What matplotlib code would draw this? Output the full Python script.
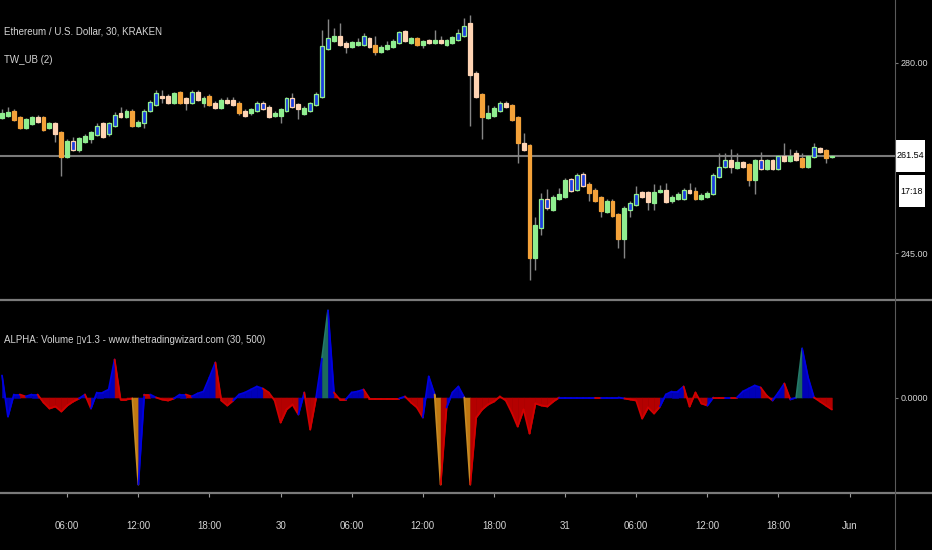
import matplotlib
matplotlib.use("Agg")
import matplotlib.pyplot as plt
from matplotlib.lines import Line2D
from matplotlib.patches import Rectangle
import numpy as np

# ---- data (ETH/USD, 30 min bars, Kraken) ----
title = "Ethereum / U.S. Dollar, 30, KRAKEN"
study_label = "TW_UB (2)"
ind_label = "ALPHA: Volume \u25afv1.3 - www.thetradingwizard.com (30, 500)"
last_price_label = "261.54"
countdown_label = "17:18"

opens = [269.8, 270.3, 271.2, 270.0, 268.0, 268.8, 270.1, 270.0, 268.0, 268.9,
         267.2, 262.7, 265.7, 264.0, 265.5, 265.95, 266.75, 268.9, 266.9, 268.4,
         270.85, 270.0, 271.2, 268.4, 268.9, 271.2, 272.3, 274.0, 273.9, 272.7,
         274.7, 273.5, 272.7, 274.7, 272.7, 273.9, 272.7, 271.8, 273.2, 273.2,
         272.7, 271.2, 270.7, 271.2, 272.7, 271.95, 270.2, 270.2, 271.2, 273.5,
         272.4, 270.6, 271.2, 272.3, 273.8, 282.6, 284.05, 284.97, 283.7, 283.0,
         283.3, 283.4, 284.55, 283.3, 282.1, 282.6, 282.9, 283.7, 285.8, 283.7,
         284.55, 283.4, 284.2, 283.7, 284.2, 283.4, 283.7, 284.2, 285.0, 287.3,
         278.2, 274.2, 269.9, 270.2, 271.2, 272.7, 272.3, 270.0, 265.2, 264.9,
         244.1, 249.6, 254.95, 252.9, 254.95, 255.3, 258.64, 256.6, 259.56, 257.7,
         256.6, 255.3, 252.6, 254.6, 252.2, 247.6, 252.9, 253.85, 256.24, 256.24,
         254.2, 256.24, 256.6, 254.6, 254.95, 254.95, 256.6, 256.43, 254.95, 255.3,
         255.87, 259.0, 260.85, 262.13, 260.66, 261.77, 261.4, 258.45, 262.13, 260.48,
         262.13, 260.48, 262.87, 261.95, 263.42, 262.5, 260.85, 262.69, 264.34, 263.98,
         262.7]
highs = [271.5, 271.9, 271.6, 270.3, 269.9, 270.3, 270.5, 270.2, 269.2, 269.1,
         267.5, 266.0, 266.3, 266.4, 266.9, 267.5, 268.9, 269.1, 269.2, 270.9,
         271.95, 271.5, 271.5, 269.5, 271.5, 273.2, 275.0, 275.0, 274.2, 274.7,
         274.9, 273.8, 275.0, 275.0, 273.9, 274.2, 273.0, 273.5, 273.8, 273.8,
         273.0, 271.5, 271.7, 273.0, 273.0, 272.2, 271.1, 271.7, 273.8, 274.5,
         272.7, 272.0, 272.9, 274.6, 286.1, 288.1, 286.4, 287.3, 284.0, 284.1,
         284.66, 285.5, 284.8, 284.97, 283.3, 284.1, 284.4, 285.9, 286.0, 284.8,
         284.8, 284.3, 284.4, 286.1, 285.0, 284.4, 284.9, 286.2, 288.3, 288.8,
         278.5, 274.5, 272.3, 272.0, 273.0, 273.0, 272.5, 270.2, 267.1, 265.1,
         251.6, 256.1, 256.8, 255.6, 257.0, 258.8, 258.9, 259.7, 259.9, 258.0,
         256.9, 255.5, 254.9, 254.9, 252.4, 253.6, 254.5, 257.35, 256.5, 256.5,
         257.7, 257.5, 257.9, 255.6, 256.2, 256.9, 257.9, 257.1, 256.0, 256.4,
         259.7, 263.4, 263.4, 264.2, 263.4, 262.0, 261.6, 262.4, 263.6, 262.4,
         262.4, 263.1, 265.3, 264.2, 264.0, 263.4, 263.1, 265.27, 264.6, 264.2,
         263.0]
lows = [269.6, 270.1, 269.3, 267.8, 267.8, 268.6, 269.0, 267.5, 267.8, 265.5,
        259.1, 262.5, 263.8, 263.6, 265.3, 265.3, 266.5, 266.2, 266.6, 268.2,
        269.8, 269.8, 268.2, 268.2, 268.0, 270.9, 272.0, 272.6, 272.5, 272.5,
        272.5, 271.3, 272.5, 273.0, 271.9, 272.0, 271.6, 271.6, 272.5, 272.0,
        270.4, 270.0, 270.4, 271.0, 271.3, 269.8, 270.0, 268.9, 271.0, 271.7,
        269.7, 270.4, 271.0, 272.0, 273.5, 282.4, 283.8, 283.1, 281.8, 282.8,
        283.1, 283.2, 282.8, 281.5, 281.9, 282.4, 282.7, 283.5, 283.9, 283.5,
        283.1, 282.76, 283.5, 283.5, 283.5, 283.2, 283.5, 284.0, 284.8, 268.4,
        273.5, 266.0, 269.7, 270.0, 271.0, 271.7, 269.3, 261.6, 263.8, 240.0,
        241.9, 248.3, 252.9, 252.7, 254.8, 255.1, 256.2, 256.4, 257.1, 254.6,
        254.4, 251.6, 252.4, 251.6, 245.9, 244.1, 251.6, 253.6, 255.1, 252.9,
        252.9, 256.0, 254.2, 254.2, 254.7, 254.7, 255.9, 254.7, 254.7, 255.1,
        255.6, 258.8, 260.6, 259.7, 260.5, 260.6, 257.35, 255.87, 260.3, 260.3,
        260.3, 260.3, 261.7, 261.7, 261.9, 260.6, 260.6, 262.5, 263.4, 261.58,
        262.5]
closes = [270.85, 271.0, 269.5, 268.0, 269.6, 270.0, 269.2, 267.7, 268.9, 266.9,
          262.7, 265.7, 264.0, 266.1, 266.55, 267.2, 268.4, 266.4, 268.9, 270.4,
          270.0, 271.2, 268.4, 269.2, 271.2, 272.9, 274.4, 273.5, 272.7, 274.4,
          272.7, 272.7, 274.7, 273.2, 273.5, 272.3, 271.8, 273.2, 272.7, 272.3,
          270.7, 270.3, 271.5, 272.7, 271.5, 270.0, 270.85, 271.5, 273.5, 271.95,
          271.5, 271.7, 272.6, 274.3, 283.2, 284.6, 284.97, 283.3, 283.0, 283.9,
          283.9, 285.0, 283.0, 282.1, 283.0, 283.4, 284.1, 285.65, 284.1, 284.55,
          283.3, 284.1, 283.7, 284.2, 283.7, 284.2, 284.7, 285.5, 286.9, 277.8,
          273.8, 270.0, 270.85, 271.7, 272.7, 271.95, 269.5, 265.2, 264.0, 244.1,
          250.2, 254.95, 253.3, 255.3, 255.9, 258.45, 256.43, 259.4, 257.35, 256.06,
          254.6, 252.7, 254.6, 251.8, 247.6, 253.3, 254.2, 255.9, 255.3, 254.4,
          256.24, 256.6, 254.4, 255.3, 255.9, 256.6, 256.06, 254.95, 255.69, 256.06,
          259.37, 260.85, 262.13, 260.85, 261.77, 260.85, 258.45, 262.13, 260.48, 262.13,
          260.48, 262.87, 261.95, 262.87, 262.13, 260.85, 262.87, 264.53, 263.61, 262.5,
          262.87]
# bar colouring of the TW_UB study: g up, p down, o strong down, bg / bp blue-body up / down
bar_kind = ["g", "g", "o", "o", "g", "g", "p", "o", "g", "p",
            "o", "g", "bp", "g", "g", "g", "bg", "p", "bg", "bg",
            "p", "g", "o", "g", "bg", "bg", "bg", "p", "p", "g",
            "o", "p", "bg", "p", "g", "o", "p", "g", "p", "p",
            "o", "p", "g", "bg", "bp", "p", "g", "g", "bg", "bp",
            "p", "g", "bg", "bg", "bg", "bg", "g", "p", "p", "g",
            "g", "bg", "p", "o", "g", "g", "g", "bg", "p", "g",
            "o", "g", "p", "g", "p", "g", "g", "bg", "bg", "p",
            "p", "o", "g", "g", "bg", "p", "o", "o", "p", "o",
            "g", "bg", "bp", "g", "g", "g", "bp", "bg", "bp", "o",
            "o", "o", "g", "o", "o", "g", "bg", "bg", "p", "p",
            "g", "g", "p", "g", "g", "bg", "p", "o", "g", "g",
            "bg", "bg", "bg", "p", "g", "p", "o", "g", "bp", "g",
            "p", "bg", "p", "g", "p", "o", "g", "bg", "p", "o",
            "g"]

# ALPHA volume oscillator values and its state colour (r, b, o, t)
ind_values = [0.22, -0.19, 0.03, 0.03, 0.01, 0.03, 0.03, -0.05, -0.11, -0.09,
              -0.14, -0.08, -0.04, -0.01, 0.03, -0.11, 0.05, 0.05, 0.08, 0.38,
              -0.02, -0.02, -0.01, -0.87, 0.03, 0.03, 0.00, -0.02, -0.03, -0.01,
              0.03, 0.03, 0.01, 0.04, 0.06, 0.20, 0.35, -0.03, -0.08, -0.03,
              0.03, 0.05, 0.08, 0.11, 0.09, 0.05, -0.03, -0.25, -0.12, -0.07,
              -0.17, 0.05, -0.32, 0.00, 0.40, 0.87, 0.05, -0.02, -0.02, 0.05,
              0.06, 0.08, -0.01, -0.01, -0.01, -0.01, -0.01, -0.01, 0.01, -0.05,
              -0.10, -0.20, 0.21, 0.03, -0.87, -0.10, 0.05, 0.11, 0.00, -0.87,
              -0.20, -0.12, -0.07, -0.04, 0.01, -0.03, -0.15, -0.29, -0.12, -0.36,
              -0.06, -0.08, -0.09, -0.04, 0.00, 0.00, 0.00, 0.00, 0.00, 0.00,
              0.00, 0.00, 0.00, 0.00, 0.00, -0.01, -0.02, -0.03, -0.21, -0.10,
              -0.16, -0.09, 0.03, 0.06, 0.06, 0.11, -0.09, 0.05, -0.06, -0.08,
              0.00, 0.00, 0.00, 0.00, 0.00, 0.06, 0.09, 0.12, 0.10, 0.02,
              -0.03, 0.05, 0.14, -0.02, 0.00, 0.49, 0.20, 0.00, -0.04, -0.08,
              -0.12]
ind_kind = ["r", "b", "b", "b", "r", "b", "b", "r", "r", "r",
            "r", "r", "r", "r", "b", "r", "b", "b", "b", "b",
            "r", "r", "r", "o", "b", "r", "b", "r", "r", "r",
            "b", "b", "r", "b", "b", "b", "b", "r", "r", "r",
            "b", "b", "b", "b", "b", "r", "r", "r", "r", "r",
            "r", "b", "r", "r", "b", "t", "b", "r", "r", "b",
            "b", "b", "r", "r", "r", "r", "r", "r", "b", "r",
            "r", "r", "b", "b", "o", "r", "b", "b", "b", "o",
            "r", "r", "r", "r", "r", "r", "r", "r", "r", "r",
            "r", "r", "r", "r", "r", "b", "b", "b", "b", "b",
            "b", "r", "b", "b", "b", "b", "r", "r", "r", "r",
            "r", "r", "b", "b", "b", "b", "r", "r", "r", "r",
            "b", "r", "r", "b", "r", "b", "b", "b", "b", "r",
            "r", "b", "b", "r", "b", "t", "b", "b", "r", "r",
            "r"]

# time axis (bar 0 = 29 May 00:30)
tick_bars = [11, 23, 35, 47, 59, 71, 83, 95, 107, 119, 131, 143]
tick_labels = ["06:00", "12:00", "18:00", "30", "06:00", "12:00", "18:00",
               "31", "06:00", "12:00", "18:00", "Jun"]
price_ticks = [245.0, 280.0]

# ---- styling ----
W, H = 932, 550
AX_R = 895            # right edge of plotting area (px)
SEP1, SEP2 = 300, 493  # panel separators (px from top)
font = ["Liberation Sans", "DejaVu Sans"]
txt_col = "#d4d4d4"
grid_col = "#7a7a7a"
fs_leg = 7.0
fs_axis = 6.5

body_face = {"g": "#90ee90", "p": "#ffd4b4", "o": "#f4a23a", "bg": "#1c3ee0", "bp": "#1c3ee0"}
body_edge = {"g": "#90ee90", "p": "#ffd4b4", "o": "#f4a23a", "bg": "#90ee90", "bp": "#ffd4b4"}
ind_fill = {"r": "#b40000", "b": "#0000b8", "o": "#c07810", "t": "#1d6a5c"}
ind_line = {"r": "#d20000", "b": "#0000e0", "o": "#c88a24", "t": "#247868"}

fig = plt.figure(figsize=(W / 100, H / 100), dpi=100)
fig.patch.set_facecolor("black")

ax = fig.add_axes([0, 1 - SEP1 / H, AX_R / W, SEP1 / H])
axi = fig.add_axes([0, 1 - SEP2 / H, AX_R / W, (SEP2 - SEP1 - 1) / H])
for a in (ax, axi):
    a.set_facecolor("black")
    for s in a.spines.values():
        s.set_visible(False)

n = len(closes)
x = np.arange(n)
bar_px = 5.927
x_left = -2 / bar_px
x_right = (AX_R - 2) / bar_px

# candles
o_ = np.array(opens)
c_ = np.array(closes)
ax.vlines(x, lows, highs, color="#858585", linewidth=1.0, zorder=1)
ax.bar(x, np.maximum(np.abs(c_ - o_), 0.05), bottom=np.minimum(o_, c_), width=0.66,
       color=[body_face[k] for k in bar_kind], edgecolor=[body_edge[k] for k in bar_kind],
       linewidth=0.9, zorder=2)
ax.axhline(closes[-1], color=grid_col, linewidth=1.5, zorder=0)
ax.set_xlim(x_left, x_right)
ax.set_ylim(236.35, 291.60)
ax.yaxis.tick_right()
ax.set_yticks(price_ticks)
ax.set_yticklabels(["%.2f" % p for p in price_ticks], fontfamily=font)
ax.tick_params(axis="y", colors=grid_col, labelcolor=txt_col, length=2, pad=2, labelsize=fs_axis)
ax.set_xticks([])

# ALPHA volume area, coloured segment by segment
v = np.array(ind_values)
for i in range(1, n):
    k = ind_kind[i]
    axi.fill_between(x[i - 1:i + 1], v[i - 1:i + 1], 0, color=ind_fill[k],
                     linewidth=0.4, edgecolor=ind_fill[k], zorder=1)
    axi.plot(x[i - 1:i + 1], v[i - 1:i + 1], color=ind_line[k], linewidth=1.3,
             solid_capstyle="round", zorder=2)
axi.set_xlim(x_left, x_right)
axi.set_ylim(-0.955, 0.965)
axi.yaxis.tick_right()
axi.set_yticks([0])
axi.set_yticklabels(["0.0000"], fontfamily=font)
axi.tick_params(axis="y", colors=grid_col, labelcolor=txt_col, length=2, pad=2, labelsize=fs_axis)
axi.set_xticks(tick_bars)
axi.set_xticklabels(tick_labels, fontfamily=font)
axi.tick_params(axis="x", colors="#9a9a9a", labelcolor=txt_col, direction="out",
                length=3, width=0.8, pad=17, labelsize=fs_leg)

# separators and price scale border
fig.add_artist(Line2D([0, 1], [1 - SEP1 / H] * 2, color=grid_col, linewidth=1.6))
fig.add_artist(Line2D([0, 1], [1 - SEP2 / H] * 2, color=grid_col, linewidth=1.6))
fig.add_artist(Line2D([AX_R / W] * 2, [0, 1], color="#5a5a5a", linewidth=0.8))

# legends
fig.text(4 / W, 1 - 32 / H, title, color=txt_col, fontsize=fs_leg, family=font, va="center")
fig.text(4 / W, 1 - 60 / H, study_label, color=txt_col, fontsize=fs_leg, family=font, va="center")
fig.text(4 / W, 1 - 340 / H, ind_label, color=txt_col, fontsize=fs_leg, family=font, va="center")

# last price and countdown boxes on the price scale
y_last = ax.transData.transform((0, closes[-1]))[1] / H
bh = 32 / H
fig.add_artist(Rectangle((AX_R / W, y_last - bh / 2), 30 / W, bh, transform=fig.transFigure,
                         facecolor="white", edgecolor="none"))
fig.text((AX_R + 15) / W, y_last, last_price_label, color="black", fontsize=fs_axis,
         family=font, ha="center", va="center")
fig.add_artist(Rectangle(((AX_R + 4) / W, y_last - bh / 2 - 3 / H - bh), 26 / W, bh,
                         transform=fig.transFigure, facecolor="white", edgecolor="none"))
fig.text((AX_R + 17) / W, y_last - bh - 3 / H, countdown_label, color="black", fontsize=fs_axis,
         family=font, ha="center", va="center")

fig.savefig("out.png", dpi=100, facecolor="black")
